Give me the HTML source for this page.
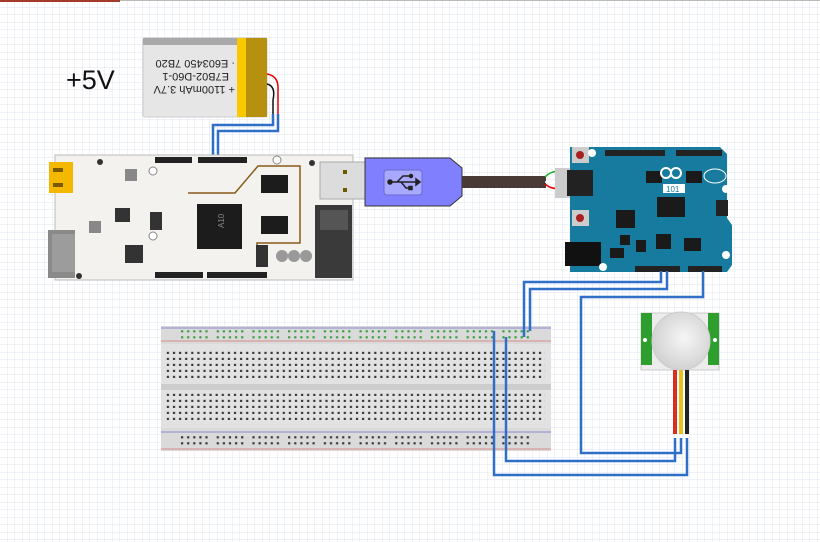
<!DOCTYPE html>
<html><head><meta charset="utf-8"><style>
html,body{margin:0;padding:0;background:#fff}
svg{display:block}
text{font-family:"Liberation Sans",sans-serif}
</style></head><body>
<svg width="820" height="542" viewBox="0 0 820 542" xmlns="http://www.w3.org/2000/svg">
<defs>
<pattern id="grid" width="7.5" height="7.5" patternUnits="userSpaceOnUse">
<path d="M7.5 0V7.5M0 7.5H7.5" stroke="#dfe6ee" stroke-width="1" fill="none"/>
</pattern>
<pattern id="holes" x="165" y="350" width="6.1" height="6" patternUnits="userSpaceOnUse">
<rect x="1.8" y="1.8" width="2.2" height="2.2" fill="#3a3a3a"/>
</pattern>
<pattern id="rail" x="180" y="329" width="35.7" height="6" patternUnits="userSpaceOnUse">
<g fill="#3aa040"><rect x="1" y="1.2" width="2.2" height="2.2"/><rect x="7.1" y="1.2" width="2.2" height="2.2"/><rect x="13.2" y="1.2" width="2.2" height="2.2"/><rect x="19.3" y="1.2" width="2.2" height="2.2"/><rect x="25.4" y="1.2" width="2.2" height="2.2"/></g>
</pattern>
<pattern id="railb" x="180" y="435" width="35.7" height="6" patternUnits="userSpaceOnUse">
<g fill="#3a3a3a"><rect x="1" y="1.2" width="2.2" height="2.2"/><rect x="7.1" y="1.2" width="2.2" height="2.2"/><rect x="13.2" y="1.2" width="2.2" height="2.2"/><rect x="19.3" y="1.2" width="2.2" height="2.2"/><rect x="25.4" y="1.2" width="2.2" height="2.2"/></g>
</pattern>
<radialGradient id="dome" cx="0.55" cy="0.45" r="0.6"><stop offset="0" stop-color="#f6f6f6"/><stop offset="1" stop-color="#cfcfcf"/></radialGradient>
</defs>
<rect width="820" height="542" fill="#fff"/>
<rect width="820" height="542" fill="url(#grid)"/>
<rect x="0" y="0" width="120" height="2" fill="#a33a2a"/>
<rect x="120" y="0" width="700" height="1" fill="#bbb"/>

<text x="66" y="89" font-size="27" fill="#111">+5V</text>

<!-- Battery -->
<rect x="143" y="38" width="124" height="79" rx="2" fill="#e6e6e6" stroke="#ccc"/>
<rect x="143" y="38" width="124" height="7" fill="#a9a9a9"/>
<rect x="237" y="38" width="9" height="79" fill="#f8c800"/>
<rect x="246" y="38" width="21" height="79" fill="#b6900f"/>
<g transform="rotate(180 192 76)" font-size="11" fill="#222">
<text x="149" y="66">+ 1100mAh 3.7V</text>
<text x="155" y="79">E7B02-D60-1</text>
<text x="149" y="92">· E603450 7B20</text>
</g>
<path d="M267 74 Q279 76 278 90 L278 115" stroke="#e00" stroke-width="1.5" fill="none"/>
<path d="M267 84 Q276 86 273 100 L273 115" stroke="#111" stroke-width="1.5" fill="none"/>
<g stroke="#2f6fc8" stroke-width="2.5" fill="none">
<path d="M273 114V125H213V162"/>
<path d="M278 114V131H218V162"/>
</g>

<!-- pcDuino -->
<rect x="55" y="155" width="298" height="125" fill="#f3f2ee" stroke="#bbb"/>
<rect x="49" y="162" width="24" height="31" fill="#f5b800"/>
<rect x="53" y="168" width="10" height="4" fill="#7a5a00"/>
<rect x="53" y="183" width="10" height="4" fill="#7a5a00"/>
<rect x="48" y="230" width="27" height="48" fill="#8a8a8a"/>
<rect x="52" y="234" width="23" height="38" fill="#9c9c9c"/>
<rect x="155" y="157" width="37" height="6" fill="#222"/>
<rect x="198" y="157" width="49" height="6" fill="#222"/>
<rect x="155" y="272" width="48" height="6" fill="#222"/>
<rect x="207" y="272" width="60" height="6" fill="#222"/>
<path d="M188 193H235L258 166H300V243H257V266" stroke="#8a5a1a" stroke-width="1.5" fill="none"/>
<rect x="197" y="204" width="45" height="45" fill="#1c1c1c"/>
<text x="220" y="232" font-size="8" fill="#888" transform="rotate(-90 220 228)">A10</text>
<rect x="261" y="175" width="27" height="18" fill="#1c1c1c"/>
<rect x="261" y="216" width="27" height="18" fill="#1c1c1c"/>
<rect x="115" y="208" width="15" height="14" fill="#333"/>
<rect x="125" y="245" width="18" height="18" fill="#333"/>
<rect x="150" y="212" width="12" height="18" fill="#333"/>
<rect x="125" y="169" width="12" height="12" fill="#888"/>
<rect x="89" y="221" width="12" height="12" fill="#888"/>
<rect x="256" y="245" width="12" height="22" fill="#333"/>
<circle cx="282" cy="256" r="6" fill="#999"/><circle cx="294" cy="256" r="6" fill="#999"/><circle cx="306" cy="256" r="6" fill="#999"/>
<rect x="315" y="205" width="37" height="73" fill="#3a3a3a"/>
<rect x="320" y="210" width="28" height="20" fill="#555"/>
<rect x="320" y="162" width="45" height="37" fill="#dcdcdc" stroke="#aaa"/>
<rect x="343" y="170" width="4" height="4" fill="#6a5a00"/><rect x="343" y="188" width="4" height="4" fill="#6a5a00"/>
<circle cx="100" cy="162" r="3" fill="#333"/><circle cx="153" cy="171" r="4" fill="#fff" stroke="#888"/><circle cx="153" cy="236" r="4" fill="#fff" stroke="#888"/><circle cx="79" cy="276" r="3" fill="#333"/><circle cx="277" cy="160" r="4" fill="#fff" stroke="#888"/><circle cx="312" cy="163" r="3" fill="#333"/>

<!-- USB cable -->
<path d="M365 158H450L462 168V196L450 206H365Z" fill="#8080ff" stroke="#333"/>
<rect x="384" y="170" width="38" height="25" rx="3" fill="#a8a8ff" stroke="#6a6ad0"/>
<g stroke="#222" stroke-width="1.5" fill="#222">
<line x1="390" y1="182" x2="416" y2="182"/>
<path d="M397 182L403 176H410M401 182L406 188H410" fill="none"/>
<circle cx="390" cy="182" r="2"/><circle cx="411" cy="176" r="1.5"/><rect x="409" y="186.5" width="3" height="3"/>
<path d="M416 179L420 182L416 185Z"/>
</g>
<rect x="462" y="176" width="84" height="12" fill="#4a3a36"/>
<path d="M545 177Q552 170 560 172H585" stroke="#2a2" stroke-width="1.5" fill="none"/>
<path d="M545 182H585" stroke="#fff" stroke-width="1.5"/>
<path d="M545 184Q552 190 560 188H585" stroke="#e00" stroke-width="1.5" fill="none"/>
<rect x="555" y="168" width="42" height="30" fill="#ccc"/>
<rect x="567" y="170" width="26" height="26" fill="#222"/>

<!-- Arduino 101 -->
<path d="M570 147H720L727 154V218L732 225V265L727 272H570Z" fill="#177ba0"/>
<rect x="567" y="170" width="26" height="26" fill="#222"/>
<rect x="605" y="150" width="60" height="6" fill="#222"/>
<rect x="676" y="150" width="46" height="6" fill="#222"/>
<rect x="635" y="266" width="45" height="6" fill="#222"/>
<rect x="688" y="266" width="34" height="6" fill="#222"/>
<rect x="572" y="147" width="17" height="16" fill="#ccc"/><circle cx="580" cy="155" r="4" fill="#a82020"/>
<rect x="572" y="210" width="17" height="16" fill="#ccc"/><circle cx="580" cy="218" r="4" fill="#a82020"/>
<rect x="565" y="242" width="36" height="24" fill="#111"/>
<rect x="646" y="171" width="16" height="12" fill="#1a1a1a"/>
<rect x="686" y="171" width="16" height="12" fill="#1a1a1a"/>
<rect x="657" y="197" width="28" height="20" fill="#1a1a1a"/>
<rect x="616" y="210" width="19" height="18" fill="#1a1a1a"/>
<rect x="656" y="234" width="15" height="15" fill="#1a1a1a"/>
<rect x="684" y="238" width="17" height="13" fill="#1a1a1a"/>
<rect x="620" y="235" width="10" height="10" fill="#1a1a1a"/>
<rect x="636" y="240" width="10" height="12" fill="#1a1a1a"/>
<rect x="610" y="248" width="14" height="10" fill="#1a1a1a"/>
<rect x="716" y="200" width="12" height="16" fill="#222"/>
<circle cx="666" cy="173" r="5" fill="none" stroke="#fff" stroke-width="2"/><circle cx="676" cy="173" r="5" fill="none" stroke="#fff" stroke-width="2"/>
<rect x="663" y="184" width="22" height="9" fill="#fff"/>
<text x="666" y="192" font-size="8" fill="#177ba0">101</text>
<ellipse cx="715" cy="176" rx="11" ry="7" fill="none" stroke="#fff"/>
<circle cx="592" cy="153" r="4" fill="#fff"/><circle cx="726" cy="189" r="4" fill="#fff"/><circle cx="726" cy="255" r="4" fill="#fff"/><circle cx="603" cy="267" r="4" fill="#fff"/>

<!-- Breadboard -->
<rect x="161" y="326" width="390" height="125" fill="#dadada"/>
<rect x="161" y="344" width="390" height="40" fill="#e2e2e2"/>
<rect x="161" y="390" width="390" height="38" fill="#e2e2e2"/>
<rect x="161" y="384" width="390" height="6" fill="#cdcdcd"/>
<line x1="161" y1="328" x2="551" y2="328" stroke="#8a8ad8"/>
<line x1="161" y1="341" x2="551" y2="341" stroke="#d88a8a"/>
<line x1="161" y1="432" x2="551" y2="432" stroke="#8a8ad8"/>
<line x1="161" y1="449" x2="551" y2="449" stroke="#d88a8a"/>
<rect x="165" y="350" width="380" height="30" fill="url(#holes)"/>
<rect x="165" y="393" width="380" height="30" fill="url(#holes)"/>
<rect x="180" y="329" width="358" height="12" fill="url(#rail)"/>
<rect x="180" y="435" width="358" height="12" fill="url(#railb)"/>

<!-- PIR -->
<rect x="641" y="313" width="78" height="57" fill="#ececec" stroke="#ccc"/>
<rect x="641" y="313" width="11" height="52" fill="#2e9e2e"/>
<rect x="708" y="313" width="11" height="52" fill="#2e9e2e"/>
<circle cx="645" cy="340" r="2" fill="#fff"/><circle cx="715" cy="340" r="2" fill="#fff"/>
<circle cx="681" cy="341" r="29" fill="url(#dome)" stroke="#ccc"/>
<rect x="673" y="370" width="4" height="64" fill="#d83020"/>
<rect x="679" y="370" width="4" height="64" fill="#e8c020"/>
<rect x="685" y="370" width="4" height="64" fill="#222"/>

<!-- Blue wires -->
<g stroke="#2f6fc8" stroke-width="2.5" fill="none">
<path d="M661 271V282H524V337"/>
<path d="M667 271V289H530V331"/>
<path d="M703 271V297H581V453H681V438"/>
<path d="M506 337V461H675V438"/>
<path d="M494 331V475H687V438"/>
</g>
</svg>
</body></html>
